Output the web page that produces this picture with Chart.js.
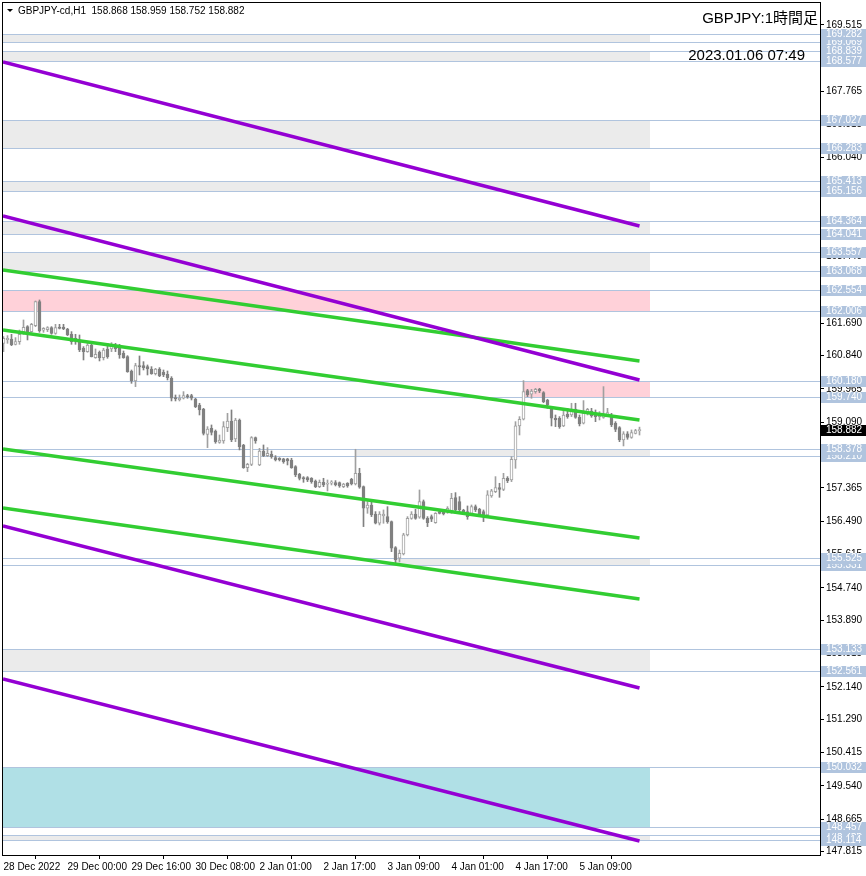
<!DOCTYPE html>
<html>
<head>
<meta charset="utf-8">
<script src="https://cdn.jsdelivr.net/npm/chart.js@4.4.0/dist/chart.umd.min.js"></script>
<style>
html,body{margin:0;padding:0;background:#fff;}
canvas{display:block;}
</style>
</head>
<body>
<canvas id="c" width="866" height="876"></canvas>
<script>
// GBPJPY H1 - 28 Dec 2022 .. 5 Jan 2023
const candleO = [161.159,161.256,161.273,161.133,161.203,161.466,161.597,161.466,161.623,162.253,
161.501,161.518,161.571,161.422,161.588,161.588,161.536,161.396,161.291,161.203,
161.028,160.941,161.116,160.783,160.923,160.783,161.011,161.011,161.116,161.028,
160.897,160.809,160.433,160.171,160.573,160.573,160.547,160.486,160.363,160.486,
160.398,160.346,160.241,159.733,159.681,159.716,159.786,159.786,159.698,159.541,
159.436,158.771,158.928,158.858,158.561,158.596,158.946,159.121,158.648,159.147,
158.491,157.896,157.983,158.683,157.966,158.333,158.211,158.246,158.158,158.141,
158.124,158.124,158.097,157.922,157.721,157.634,157.634,157.616,157.546,157.397,
157.511,157.459,157.485,157.502,157.502,157.397,157.485,157.590,157.467,157.747,
157.397,156.829,156.916,156.680,156.435,156.627,156.610,156.479,155.796,155.517,
155.630,156.129,156.566,156.680,156.593,157.004,156.566,156.610,156.453,156.741,
156.741,156.741,156.741,157.109,157.004,156.785,156.741,156.697,156.872,156.803,
156.741,156.654,157.152,157.266,157.371,157.327,157.616,157.573,158.097,158.990,
159.165,159.917,159.821,159.891,159.961,159.865,159.672,159.427,159.191,159.191,
158.990,159.296,159.278,159.436,159.217,159.060,159.340,159.383,159.322,159.235,
159.217,159.278,159.252,159.060,158.946,158.622,158.780,158.692,158.797,158.868];
const candleH = [161.334,161.361,161.396,161.308,161.509,161.772,161.623,161.684,162.271,162.297,
161.571,161.597,161.597,161.658,161.658,161.658,161.553,161.466,161.396,161.378,
161.072,161.177,161.159,161.011,160.958,161.028,161.159,161.177,161.159,161.133,
160.958,160.836,160.459,160.635,160.827,160.678,160.591,160.547,160.503,160.521,
160.459,160.433,160.284,159.803,159.803,159.891,159.821,159.821,159.716,159.585,
159.453,158.972,159.016,158.885,158.753,159.103,159.322,159.410,159.191,159.173,
158.508,158.010,158.710,158.700,158.403,158.491,158.421,158.333,158.211,158.158,
158.141,158.141,158.141,157.948,157.747,157.660,157.660,157.634,157.572,157.572,
157.616,157.572,157.555,157.555,157.520,157.485,157.502,157.616,158.378,157.879,
157.415,157.004,157.004,156.741,156.741,156.785,156.872,156.496,155.823,155.735,
156.173,156.610,156.741,156.803,157.310,157.047,156.610,156.654,156.715,156.803,
156.785,156.872,157.222,157.240,157.135,156.803,156.890,156.916,156.916,156.829,
156.785,157.292,157.327,157.660,157.485,157.747,157.660,158.185,159.103,159.235,
160.180,159.952,159.952,159.978,159.978,159.891,159.690,159.497,159.278,159.235,
159.453,159.453,159.585,159.585,159.278,159.655,159.453,159.453,159.410,159.366,
160.022,159.453,159.322,159.103,158.972,158.841,158.841,158.885,158.902,158.959];
const candleL = [160.941,161.159,161.098,161.116,161.133,161.396,161.247,161.448,161.597,161.448,
161.448,161.466,161.396,161.396,161.536,161.518,161.361,161.133,161.133,160.941,
160.722,160.923,160.801,160.766,160.696,160.722,160.766,160.941,160.941,160.766,
160.766,160.398,160.109,160.022,160.328,160.459,160.328,160.346,160.328,160.284,
160.284,160.197,159.646,159.646,159.646,159.698,159.716,159.672,159.471,159.278,
158.753,158.421,158.753,158.535,158.535,158.535,158.841,158.578,158.578,158.360,
157.878,157.791,157.948,158.535,157.948,158.185,158.185,158.141,158.071,158.071,
158.010,157.966,157.878,157.660,157.572,157.511,157.529,157.485,157.371,157.371,
157.397,157.284,157.441,157.415,157.380,157.371,157.380,157.441,157.441,157.354,
156.348,156.697,156.610,156.418,156.391,156.435,156.435,155.691,155.380,155.420,
155.604,156.103,156.540,156.540,156.566,156.540,156.348,156.479,156.435,156.680,
156.654,156.697,156.697,156.697,156.741,156.715,156.540,156.654,156.741,156.654,
156.479,156.627,157.117,157.240,157.117,157.292,157.502,157.529,157.879,158.753,
159.147,159.760,159.716,159.847,159.865,159.602,159.453,158.990,158.972,158.928,
158.972,159.191,159.235,159.191,158.990,159.042,159.278,159.217,159.103,159.147,
159.191,159.235,158.972,158.841,158.578,158.465,158.640,158.666,158.780,158.752];
const candleC = [161.291,161.291,161.116,161.203,161.396,161.579,161.448,161.658,162.253,161.483,
161.553,161.571,161.422,161.571,161.553,161.536,161.378,161.203,161.247,160.984,
160.941,161.116,160.809,160.871,160.783,160.984,160.809,161.133,161.011,160.853,
160.783,160.416,160.171,160.573,160.538,160.521,160.486,160.363,160.486,160.302,
160.328,160.258,159.716,159.698,159.716,159.786,159.751,159.716,159.497,159.410,
158.797,158.911,158.823,158.578,158.622,158.972,159.121,158.622,159.147,158.447,
157.896,157.983,158.683,158.596,158.333,158.211,158.272,158.185,158.097,158.106,
158.053,158.071,157.896,157.704,157.616,157.599,157.572,157.529,157.397,157.511,
157.441,157.485,157.520,157.450,157.415,157.467,157.415,157.467,157.747,157.380,
156.829,156.916,156.654,156.435,156.680,156.680,156.479,155.779,155.473,155.648,
156.129,156.566,156.680,156.566,157.004,156.566,156.453,156.540,156.697,156.697,
156.680,156.829,157.091,156.785,156.785,156.741,156.610,156.872,156.785,156.680,
156.654,157.179,157.284,157.371,157.327,157.616,157.555,158.115,158.990,159.165,
159.891,159.812,159.908,159.952,159.908,159.628,159.541,159.191,159.147,158.972,
159.278,159.235,159.410,159.217,159.042,159.322,159.427,159.252,159.235,159.305,
159.278,159.340,159.016,158.902,158.622,158.780,158.692,158.815,158.867,158.882];

// time axis (bar index -> label)
const xTickIdx = [0,16,32,48,64,80,96,112,128,144];
const xTickLabels = ['28 Dec 2022','29 Dec 00:00','29 Dec 16:00','30 Dec 08:00','2 Jan 01:00',
  '2 Jan 17:00','3 Jan 09:00','4 Jan 01:00','4 Jan 17:00','5 Jan 09:00'];
const yTicks = [169.515,168.640,167.765,166.915,166.040,165.165,164.290,163.440,162.565,161.690,
  160.840,159.965,159.090,158.215,157.365,156.490,155.615,154.740,153.890,153.015,
  152.140,151.290,150.415,149.540,148.665,147.815];

// horizontal levels (label draw order: hidden ones first)
const levels = [169.069,148.255,158.210,155.331,169.282,168.839,168.577,167.027,166.283,165.413,165.156,
  164.364,164.041,163.557,163.068,162.554,162.006,160.180,159.740,158.378,155.525,
  153.133,152.561,150.032,148.457,148.114];

// zones: price top/bottom, bar index from/to, kind
const zoneHi   = [169.282,168.839,167.027,165.413,164.364,163.557,162.554,160.180,158.378,155.525,153.133,150.032,148.255];
const zoneLo   = [169.069,168.577,166.283,165.156,164.041,163.068,162.006,159.740,158.210,155.331,152.561,148.457,148.114];
const zoneFrom = [-0.125,-0.125,-0.125,-0.125,-0.125,-0.125,-0.125,130,88,98,-0.125,-0.125,-0.125];
const zoneTo   = [161.6,161.6,161.6,161.6,161.6,161.6,161.6,161.6,161.6,161.6,161.6,161.6,161.6];
const zoneKind = ['g','g','g','g','g','g','p','p','g','g','g','c','g'];

// trend channels: [bar index, price] start and end
const trendFrom = [[-0.125,168.543],[-0.125,164.501],[-0.125,156.365],[-0.125,152.349],
  [-0.125,163.084],[-0.125,161.509],[-0.125,158.386],[-0.125,156.837]];
const trendTo = [[159,164.239],[159,160.197],[159,152.113],[159,148.097],
  [159,160.696],[159,159.147],[159,156.050],[159,154.449]];
const trendKind = ['v','v','v','v','l','l','l','l'];

const lastPrice = 158.882;

const ZONE_COL = {g:'#ebebeb', p:'#ffd1d9', c:'#b0e0e6'};
const TREND_COL = {v:'#9400d3', l:'#32cd32'};
const LEVEL_COL = '#b0c4de';
const FONT = "'Liberation Sans',Arial,sans-serif";

const isBull = i => candleC[i] >= candleO[i];
const idx = candleO.map((_, i) => i);

const trendSets = trendFrom.map((a, k) => ({
  type:'line',
  data:[{x:a[0], y:a[1]}, {x:trendTo[k][0], y:trendTo[k][1]}],
  borderColor: TREND_COL[trendKind[k]], borderWidth:3.5,
  pointRadius:0, fill:false, tension:0, order:0
}));

const mtPlugin = {
  id:'mt',
  beforeDatasetsDraw(chart){
    const {ctx, chartArea:a, scales:{x, y}} = chart;
    ctx.save();
    ctx.beginPath(); ctx.rect(a.left, a.top, a.width, a.height); ctx.clip();
    zoneHi.forEach((hi, k) => {
      const x0 = Math.round(x.getPixelForValue(zoneFrom[k]));
      const x1 = Math.round(x.getPixelForValue(zoneTo[k]));
      const y0 = Math.round(y.getPixelForValue(hi));
      const y1 = Math.round(y.getPixelForValue(zoneLo[k]));
      ctx.fillStyle = ZONE_COL[zoneKind[k]];
      ctx.fillRect(x0, y0, x1 - x0, y1 - y0);
    });
    ctx.strokeStyle = LEVEL_COL; ctx.lineWidth = 1;
    levels.forEach(v => {
      const py = Math.round(y.getPixelForValue(v)) + 0.5;
      ctx.beginPath(); ctx.moveTo(a.left, py); ctx.lineTo(a.right + 1, py); ctx.stroke();
    });
    ctx.restore();
  },
  afterDraw(chart){
    const {ctx, chartArea:a, scales:{y}} = chart;
    ctx.save();
    // frame
    ctx.strokeStyle = '#000'; ctx.lineWidth = 1;
    ctx.strokeRect(a.left - 0.5, a.top - 0.5, a.width + 1, a.height + 1);
    // level price tags
    ctx.font = '10px ' + FONT; ctx.textBaseline = 'middle'; ctx.textAlign = 'left';
    levels.forEach(v => {
      const py = Math.round(y.getPixelForValue(v));
      ctx.fillStyle = LEVEL_COL; ctx.fillRect(a.right + 1, py - 5, 46, 11);
      ctx.fillStyle = '#fff'; ctx.fillText(v.toFixed(3), a.right + 6, py + 0.5);
    });
    const pp = Math.round(y.getPixelForValue(lastPrice));
    ctx.fillStyle = '#000'; ctx.fillRect(a.right + 1, pp - 5, 46, 11);
    ctx.fillStyle = '#fff'; ctx.fillText(lastPrice.toFixed(3), a.right + 6, pp + 0.5);
    // header
    ctx.fillStyle = '#000';
    ctx.beginPath(); ctx.moveTo(7, 9); ctx.lineTo(13, 9); ctx.lineTo(10, 12); ctx.closePath(); ctx.fill();
    ctx.fillText('GBPJPY-cd,H1  ' + [candleO[159], candleH[159], candleL[159], candleC[159]].map(v => v.toFixed(3)).join(' '), 18, 11);
    ctx.textAlign = 'right';
    ctx.font = "15px 'Liberation Sans','Noto Sans CJK JP',sans-serif";
    ctx.fillText('GBPJPY:1時間足', 818, 19);
    ctx.fillText('2023.01.06 07:49', 805, 56);
    ctx.restore();
  }
};

new Chart(document.getElementById('c'), {
  type:'bar',
  data:{
    datasets:[
      ...trendSets,
      {
        type:'bar', label:'body',
        data: idx.map(i => ({x:i, y:[candleO[i], candleC[i]]})),
        barThickness:3, minBarLength:1, grouped:false, borderSkipped:false, borderWidth:1,
        backgroundColor: c => isBull(c.dataIndex) ? '#ffffff' : '#808080',
        borderColor: c => isBull(c.dataIndex) ? '#a0a0a0' : '#808080',
        order:1
      },
      {
        type:'bar', label:'wick',
        data: idx.map(i => ({x:i, y:[candleL[i], candleH[i]]})),
        barThickness:1, grouped:false, borderWidth:0,
        backgroundColor: c => isBull(c.dataIndex) ? '#a0a0a0' : '#808080',
        order:2
      }
    ]
  },
  options:{
    responsive:false, animation:false,
    layout:{padding:{left:3, top:3, right:0, bottom:0}},
    plugins:{legend:{display:false}, tooltip:{enabled:false}},
    scales:{
      x:{
        type:'linear', min:-0.125, max:204.125, offset:false, bounds:'data',
        grid:{drawOnChartArea:false, tickLength:4, color:'#000'},
        border:{display:true, color:'#000'},
        afterBuildTicks: s => { s.ticks = xTickIdx.map(v => ({value:v})); },
        afterFit: s => { s.height = 21; s.paddingLeft = 0; s.paddingRight = 0; },
        ticks:{autoSkip:false, maxRotation:0, align:'start', padding:2, color:'#000',
          font:{family:FONT, size:10},
          callback:(v, i) => xTickLabels[i]}
      },
      y:{
        type:'linear', position:'right', min:147.728, max:170.092, bounds:'data',
        grid:{drawOnChartArea:false, tickLength:4, color:'#000'},
        border:{display:true, color:'#000'},
        afterBuildTicks: s => { s.ticks = yTicks.map(v => ({value:v})); },
        afterFit: s => { s.width = 46; s.paddingTop = 0; s.paddingBottom = 0; },
        ticks:{padding:2, color:'#000', font:{family:FONT, size:10},
          callback: v => v.toFixed(3)}
      }
    }
  },
  plugins:[mtPlugin]
});
</script>
</body>
</html>
